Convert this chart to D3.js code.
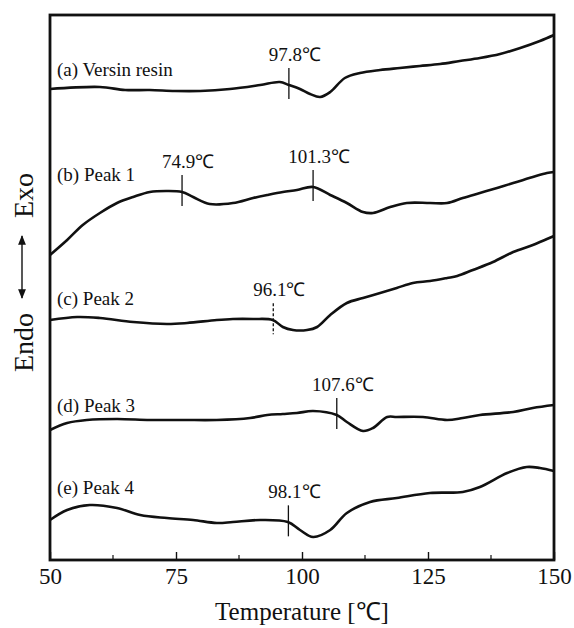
<!DOCTYPE html>
<html>
<head>
<meta charset="utf-8">
<script src="https://cdn.jsdelivr.net/npm/d3@7"></script>
<style>
  body { margin: 0; background: #fff; }
  svg { display: block; }
  text { font-family: "Liberation Serif", "Times New Roman", serif; fill: #111; }
</style>
</head>
<body>
<svg id="chart"></svg>
<script>
// DSC traces (arbitrary heat-flow units, exo up)
const tempA = [50, 59.9, 64.9, 69.8, 74.8, 79.8, 85.7, 91.7, 95.6, 97.4, 99.6, 101.6, 103.6, 105.6, 108.5, 111.5, 115.5, 119.4, 123.4, 127.4, 131.3, 135.3, 139.3, 143.3, 147.2, 150];
const valA  = [94.2, 94.6, 94, 94, 93.8, 93.8, 94.2, 95, 95.6, 95, 94.2, 93.2, 92.6, 93.6, 96.4, 97.4, 98, 98.4, 98.8, 99.2, 99.8, 100.4, 101.2, 102.4, 103.8, 105];

const tempB = [50, 53.4, 56.5, 59.9, 63.3, 66.5, 69.8, 73.2, 76.2, 78.4, 81.7, 86.3, 90.3, 93.1, 96.2, 99, 102.2, 105.6, 108.9, 112.1, 114.1, 117.5, 120.8, 125.4, 128.8, 131.9, 135.3, 138.7, 141.9, 145.8, 148.6, 150];
const valB  = [61, 64, 67, 69.4, 71.4, 72.6, 73.6, 73.8, 73.6, 72.6, 71.2, 71.4, 72.4, 73, 73.6, 74, 74.6, 73, 71.4, 69.6, 69.4, 70.6, 71.4, 71.4, 71.4, 72.4, 73.4, 74.4, 75.4, 76.6, 77.4, 77.6];

const tempC = [50, 55.4, 59.9, 66.5, 73.2, 77.2, 83.1, 86.3, 90.3, 94.2, 96.2, 98.2, 101, 103, 105.6, 108.9, 112.1, 115.5, 118.8, 122, 125.4, 128.8, 130.8, 133.9, 137.9, 141.9, 145.8, 148.6, 150];
const valC  = [48, 48.6, 48.4, 47.6, 47.2, 47.4, 48, 48.2, 48.2, 48, 46.6, 46, 46, 46.6, 49, 51.4, 52.4, 53.4, 54.4, 55.4, 55.8, 56.4, 56.8, 58, 59.6, 61.6, 63, 64.2, 64.8];

const tempD = [50, 53.4, 57.3, 63.3, 69.8, 76.4, 83.1, 89.7, 93.1, 96.2, 99, 102.2, 106.9, 108.9, 112.1, 114.1, 116.9, 118.8, 124, 128.8, 131.9, 135.3, 141.9, 145.8, 150];
const valD  = [26, 27.4, 28, 28.2, 28, 28, 28, 28.4, 29, 29.2, 29.4, 29.8, 29, 27.6, 25.8, 26.4, 28.6, 28.6, 28.6, 28, 28.4, 29, 29.6, 30.4, 31];

const tempE = [50, 53.4, 57.9, 63.3, 67.9, 73.2, 78.4, 83.1, 86.3, 91.7, 97.2, 99.6, 102.2, 105.6, 108.9, 113.5, 118.8, 125.4, 131.9, 135.3, 140.7, 144.6, 147.2, 150];
const valE  = [8, 10, 11, 10.4, 9, 8.4, 8, 7.4, 7.6, 8, 7.6, 6, 4.6, 6, 9.4, 11.6, 12.4, 13.4, 13.6, 14.6, 17.4, 18.6, 18.4, 17.8];

const curveKeys = ["a", "b", "c", "d", "e"];
const curveLabels = ["(a) Versin resin", "(b) Peak 1", "(c) Peak 2", "(d) Peak 3", "(e) Peak 4"];

// onset marks (temperature where the tick sits in the figure) and their labels
const markerCurve = ["a", "b", "b", "c", "d", "e"];
const markerTemp  = [97.4, 76.2, 102.2, 94.3, 106.9, 97.3];
const markerLabel = ["97.8℃", "74.9℃", "101.3℃", "96.1℃", "107.6℃", "98.1℃"];

const xTicks = [50, 75, 100, 125, 150];
const xMinorTicks = [62.5, 87.5, 112.5, 137.5];

const width = 574, height = 628;
const margin = {top: 15, right: 20, bottom: 68, left: 50};

const svg = d3.select("#chart")
    .attr("width", width)
    .attr("height", height);

const x = d3.scaleLinear().domain([50, 150]).range([margin.left, width - margin.right]);
const y = d3.scaleLinear().domain([0, 109]).range([height - margin.bottom, margin.top]);

const series = {
    a: tempA.map((t, i) => ({t, v: valA[i]})),
    b: tempB.map((t, i) => ({t, v: valB[i]})),
    c: tempC.map((t, i) => ({t, v: valC[i]})),
    d: tempD.map((t, i) => ({t, v: valD[i]})),
    e: tempE.map((t, i) => ({t, v: valE[i]}))
};

const line = d3.line()
    .x(d => x(d.t))
    .y(d => y(d.v))
    .curve(d3.curveCatmullRom.alpha(0.5));

svg.append("g")
    .selectAll("path")
    .data(curveKeys)
    .join("path")
    .attr("d", k => line(series[k]))
    .attr("fill", "none")
    .attr("stroke", "#111")
    .attr("stroke-width", 2.6)
    .attr("stroke-linejoin", "round");

// curve names, baseline y in pixels
const labelY = [76, 181, 305, 412, 494];
svg.append("g")
    .selectAll("text")
    .data(curveLabels)
    .join("text")
    .attr("x", 57)
    .attr("y", (d, i) => labelY[i])
    .attr("font-size", 19)
    .text(d => d);

// value at temperature t on a series, linear between points
const valueAt = (k, t) => {
    const s = series[k];
    const i = Math.max(1, d3.bisector(d => d.t).left(s, t));
    const p0 = s[i - 1], p1 = s[i];
    return p0.v + (p1.v - p0.v) * (t - p0.t) / (p1.t - p0.t);
};

const marks = markerTemp.map((t, i) => ({t, k: markerCurve[i], label: markerLabel[i]}));

const mg = svg.append("g");
mg.selectAll("line")
    .data(marks)
    .join("line")
    .attr("x1", d => x(d.t))
    .attr("x2", d => x(d.t))
    .attr("y1", d => y(valueAt(d.k, d.t)) - 17)
    .attr("y2", d => y(valueAt(d.k, d.t)) + 14)
    .attr("stroke", "#111")
    .attr("stroke-width", 1.3)
    .attr("stroke-dasharray", d => d.k === "c" ? "3,2" : null);

mg.selectAll("text")
    .data(marks)
    .join("text")
    .attr("x", d => x(d.t) + 6)
    .attr("y", d => y(valueAt(d.k, d.t)) - 24)
    .attr("text-anchor", "middle")
    .attr("font-size", 19)
    .text(d => d.label);

// x axis, ticks pointing inward
const xAxis = svg.append("g")
    .attr("transform", `translate(0,${height - margin.bottom})`)
    .call(d3.axisBottom(x).tickValues(xTicks).tickSize(-8).tickPadding(8).tickFormat(d3.format("d")));
xAxis.select(".domain").remove();
xAxis.selectAll(".tick line").attr("stroke", "#111").attr("stroke-width", 1.4);
xAxis.selectAll(".tick text")
    .attr("font-size", 23)
    .attr("font-family", "Liberation Serif, serif")
    .attr("fill", "#111");

svg.append("g")
    .selectAll("line")
    .data(xMinorTicks)
    .join("line")
    .attr("x1", d => x(d)).attr("x2", d => x(d))
    .attr("y1", height - margin.bottom).attr("y2", height - margin.bottom - 5)
    .attr("stroke", "#111")
    .attr("stroke-width", 1.2);

// frame
svg.append("rect")
    .attr("x", margin.left)
    .attr("y", margin.top)
    .attr("width", width - margin.left - margin.right)
    .attr("height", height - margin.top - margin.bottom)
    .attr("fill", "none")
    .attr("stroke", "#111")
    .attr("stroke-width", 2.8);

svg.append("text")
    .attr("x", (x(50) + x(150)) / 2)
    .attr("y", 620)
    .attr("text-anchor", "middle")
    .attr("font-size", 25)
    .text("Temperature [℃]");

// y label: Endo <-> Exo, reading bottom to top
svg.append("defs").append("marker")
    .attr("id", "head")
    .attr("viewBox", "0 0 10 10")
    .attr("refX", 9).attr("refY", 5)
    .attr("markerWidth", 7).attr("markerHeight", 7)
    .attr("orient", "auto-start-reverse")
    .append("path")
    .attr("d", "M0,1L10,5L0,9z")
    .attr("fill", "#111");

svg.append("text")
    .attr("transform", "translate(33,372) rotate(-90)")
    .attr("font-size", 28)
    .text("Endo");

svg.append("line")
    .attr("x1", 22).attr("x2", 22)
    .attr("y1", 298).attr("y2", 236)
    .attr("stroke", "#111")
    .attr("stroke-width", 1.4)
    .attr("marker-start", "url(#head)")
    .attr("marker-end", "url(#head)");

svg.append("text")
    .attr("transform", "translate(33,218) rotate(-90)")
    .attr("font-size", 28)
    .text("Exo");
</script>
</body>
</html>
